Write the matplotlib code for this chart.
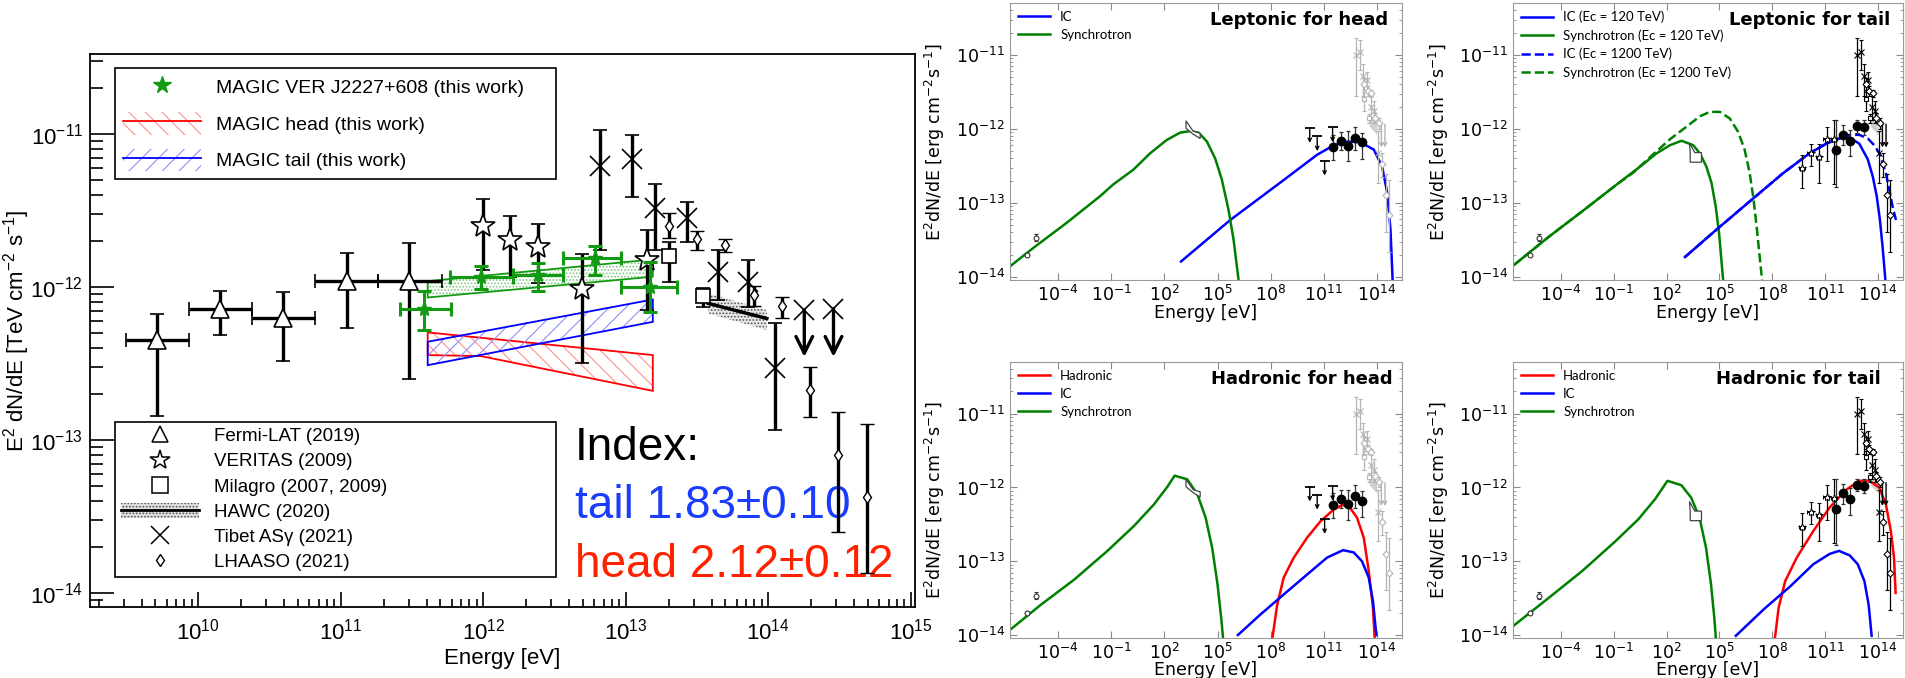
import numpy as np
import matplotlib
matplotlib.use('Agg')
import matplotlib.pyplot as plt
from matplotlib.lines import Line2D
from matplotlib.patches import Patch
from matplotlib.legend_handler import HandlerTuple
from matplotlib.ticker import LogLocator, NullFormatter, NullLocator

plt.rcParams['mathtext.default'] = 'regular'
plt.rcParams['hatch.linewidth'] = 0.8

ROOT_FONT = 'Liberation Sans'
GREEN = '#139a13'
TEV_TO_ERG = 1.602

# ---------- left panel: log10(E / eV), log10(E^2 dN/dE / TeV cm-2 s-1) ----------
fermi_e = [9.71, 10.154, 10.596, 11.045, 11.48]
fermi_elo = [9.495, 9.937, 10.379, 10.82, 11.26]
fermi_ehi = [9.937, 10.379, 10.821, 11.26, 11.71]
fermi_f = [-12.346, -12.144, -12.203, -11.961, -11.961]
fermi_flo = [-12.84, -12.314, -12.483, -12.27, -12.603]
fermi_fhi = [-12.176, -12.026, -12.033, -11.78, -11.71]

veritas_e = [12.0, 12.185, 12.385, 12.695, 13.148]
veritas_f = [-11.601, -11.693, -11.736, -12.015, -11.824]
veritas_flo = [-11.885, -11.932, -11.976, -12.499, -12.15]
veritas_fhi = [-11.425, -11.534, -11.588, -11.786, -11.626]

tibet_e = [12.821, 13.042, 13.207, 13.432, 13.646, 13.855, 14.049]
tibet_f = [-11.209, -11.165, -11.486, -11.551, -11.904, -11.969, -12.531]
tibet_flo = [-11.758, -11.41, -11.758, -11.708, -12.085, -12.129, -12.935]
tibet_fhi = [-10.974, -11.007, -11.327, -11.443, -11.758, -11.824, -12.233]
tibet_ul_e = [14.253, 14.458]
tibet_ul_f = [-12.15, -12.14]
tibet_ul_tip = [-12.456, -12.456]

lhaaso_e = [13.301, 13.498, 13.695, 13.897, 14.096, 14.295, 14.493, 14.693]
lhaaso_f = [-11.601, -11.688, -11.725, -12.052, -12.124, -12.673, -13.10, -13.37]
lhaaso_flo = [-11.682, -11.758, -11.769, -12.124, -12.2, -12.848, -13.6, -13.867]
lhaaso_fhi = [-11.518, -11.632, -11.686, -11.993, -12.063, -12.525, -12.815, -12.895]

milagro_e = [13.301, 13.54]
milagro_f = [-11.797, -12.059]
milagro_flo = [-11.965, -12.129]
milagro_fhi = [-11.704, -12.009]

hawc_e = [13.58, 13.99]
hawc_f = [-12.107, -12.205]
hawc_flo = [-12.172, -12.281]
hawc_fhi = [-12.041, -12.15]

magic_e = [11.582, 11.984, 12.385, 12.784, 13.17]
magic_elo = [11.418, 11.77, 12.206, 12.562, 12.968]
magic_ehi = [11.777, 12.206, 12.562, 12.968, 13.362]
magic_f = [-12.146, -11.932, -11.922, -11.812, -11.998]
magic_flo = [-12.277, -12.015, -12.024, -11.922, -12.161]
magic_fhi = [-12.024, -11.861, -11.841, -11.73, -11.835]

magic_band_e = [11.61, 13.19]
magic_band_hi = [-11.961, -11.819]
magic_band_lo = [-12.068, -11.932]
head_band_e = [11.61, 11.984, 13.19]
head_band_hi = [-12.296, -12.331, -12.444]
head_band_lo = [-12.444, -12.451, -12.678]
tail_band_e = [11.61, 13.19]
tail_band_hi = [-12.357, -12.081]
tail_band_lo = [-12.51, -12.227]

# ---------- model panels: log10(E / eV), log10(E^2 dN/dE / erg cm-2 s-1) ----------
radio_e = [-5.78, -5.24]
radio_f = [-13.70, -13.47]
xray_head_e = [3.22, 3.62, 4.02, 4.02, 3.62, 3.22]
xray_head_f = [-11.89, -12.03, -12.06, -12.13, -12.07, -11.99]
xray_tail_e = [3.30, 3.60, 3.98, 3.98, 3.34, 3.34]
xray_tail_f = [-12.19, -12.32, -12.32, -12.45, -12.45, -12.32]

head_ul_e = [10.21, 10.63, 11.05, 11.50]
head_ul_f = [-11.99, -12.10, -12.43, -11.98]
head_ul_tip = [-12.19, -12.30, -12.63, -12.18]
head_e = [11.53, 11.95, 12.37, 12.75, 13.17]
head_f = [-12.24, -12.16, -12.23, -12.12, -12.18]
head_flo = [-12.42, -12.28, -12.44, -12.28, -12.40]
head_fhi = [-12.08, -12.04, -12.03, -11.97, -12.05]

tailfermi_e = [9.70, 10.17, 10.64, 11.09, 11.53]
tailfermi_f = [-12.53, -12.33, -12.38, -12.135, -12.14]
tailfermi_flo = [-12.80, -12.50, -12.73, -12.44, -12.75]
tailfermi_fhi = [-12.35, -12.20, -12.21, -11.97, -11.88]
tail_e = [11.62, 12.0, 12.43, 12.81, 13.23]
tail_f = [-12.29, -12.08, -12.16, -11.96, -11.98]
tail_flo = [-12.78, -12.22, -12.37, -12.05, -12.08]
tail_fhi = [-11.88, -11.95, -12.01, -11.88, -11.88]

lh_syn_e = [-6.74, -5.42, -3.53, -1.64, -0.89, 0.25, 1.19, 2.13, 2.89, 3.45, 3.93, 4.40, 4.87, 5.25, 5.62, 5.91, 6.19]
lh_syn_f = [-13.86, -13.61, -13.27, -12.91, -12.75, -12.55, -12.33, -12.15, -12.05, -12.03, -12.05, -12.17, -12.40, -12.69, -13.09, -13.50, -14.04]
lh_ic_e = [2.94, 5.72, 8.74, 10.62, 11.57, 12.32, 13.08, 13.83, 14.30, 14.59, 14.77, 14.89]
lh_ic_f = [-13.79, -13.23, -12.69, -12.35, -12.22, -12.17, -12.18, -12.28, -12.51, -12.87, -13.36, -14.04]

lt_syn_e = [-6.68, -4.60, -2.72, -0.83, 0.49, 1.43, 2.19, 2.85, 3.51, 3.89, 4.26, 4.55, 4.79, 4.98, 5.11, 5.21]
lt_syn_f = [-13.84, -13.44, -13.10, -12.75, -12.51, -12.33, -12.22, -12.16, -12.22, -12.33, -12.51, -12.73, -13.05, -13.41, -13.77, -14.04]
lt_syn2_e = [-6.68, -4.60, -2.72, -0.83, 0.11, 1.25, 2.19, 3.13, 3.89, 4.45, 5.02, 5.59, 6.06, 6.43, 6.72, 6.94, 7.13, 7.28, 7.42]
lt_syn2_f = [-13.84, -13.44, -13.10, -12.75, -12.59, -12.34, -12.14, -11.97, -11.83, -11.77, -11.77, -11.86, -12.04, -12.28, -12.60, -12.96, -13.36, -13.72, -14.04]
lt_ic_e = [3.04, 4.83, 6.81, 8.60, 10.11, 11.06, 11.81, 12.28, 12.94, 13.42, 13.70, 13.93, 14.11, 14.26, 14.42]
lt_ic_f = [-13.73, -13.36, -12.96, -12.60, -12.33, -12.20, -12.13, -12.10, -12.20, -12.41, -12.64, -12.91, -13.23, -13.59, -14.04]
lt_ic2_e = [3.04, 4.83, 6.81, 8.60, 10.11, 11.06, 11.81, 12.38, 12.94, 13.42, 13.79, 14.08, 14.26, 14.45, 14.64, 14.83, 15.02]
lt_ic2_f = [-13.73, -13.36, -12.96, -12.60, -12.33, -12.20, -12.12, -12.08, -12.08, -12.13, -12.22, -12.33, -12.46, -12.60, -12.82, -13.05, -13.23]

hh_syn_e = [-6.67, -4.98, -3.10, -1.22, 0.29, 1.41, 2.17, 2.58, 3.29, 3.86, 4.33, 4.70, 5.00, 5.21, 5.32]
hh_syn_f = [-13.92, -13.59, -13.25, -12.86, -12.52, -12.23, -11.99, -11.84, -11.89, -12.09, -12.41, -12.82, -13.31, -13.77, -14.06]
hh_ic_e = [6.15, 7.43, 8.74, 10.06, 11.19, 12.09, 12.69, 13.16, 13.54, 13.78, 13.97]
hh_ic_f = [-14.0, -13.72, -13.45, -13.18, -12.95, -12.85, -12.88, -13.0, -13.22, -13.54, -14.0]
hh_pp_e = [8.09, 8.37, 8.74, 9.31, 10.06, 10.81, 11.56, 12.03, 12.41, 12.88, 13.26, 13.54, 13.78, 13.88]
hh_pp_f = [-14.06, -13.59, -13.22, -12.95, -12.68, -12.46, -12.30, -12.24, -12.25, -12.41, -12.68, -13.13, -13.63, -14.06]

ht_syn_e = [-6.72, -4.66, -2.78, -0.91, 0.40, 1.34, 2.05, 2.84, 3.40, 3.87, 4.24, 4.52, 4.71, 4.80]
ht_syn_f = [-13.88, -13.49, -13.13, -12.73, -12.43, -12.16, -11.91, -11.97, -12.14, -12.41, -12.82, -13.31, -13.77, -14.06]
ht_ic_e = [5.93, 7.52, 9.02, 10.33, 11.26, 11.79, 12.39, 12.85, 13.23, 13.47, 13.64]
ht_ic_f = [-14.01, -13.65, -13.34, -13.04, -12.90, -12.86, -12.92, -13.04, -13.27, -13.59, -14.01]
ht_pp_e = [8.14, 8.36, 8.73, 9.39, 10.33, 11.26, 12.20, 12.95, 13.51, 14.07, 14.45, 14.73, 14.91, 15.0]
ht_pp_f = [-14.06, -13.63, -13.27, -12.95, -12.59, -12.27, -12.03, -11.91, -11.91, -12.0, -12.23, -12.59, -12.95, -13.43]


def p(v):
    return np.power(10.0, np.asarray(v, dtype=float))


def errs(c, lo, hi, scale=1.0):
    c = p(c)
    return np.array([c - p(lo), p(hi) - c]) * scale


def band(ax, e, lo, hi, edge, hatch_color, hatch, z):
    xs = np.r_[p(e), p(e)[::-1]]
    ys = np.r_[p(hi), p(lo)[::-1]]
    ax.fill(xs, ys, facecolor='none', edgecolor=hatch_color, hatch=hatch, lw=0, zorder=z)
    ax.fill(xs, ys, facecolor='none', edgecolor=edge, lw=1.3, zorder=z)


def arrow(ax, e, f, tip, lw, scale, color='k'):
    for x, y0, y1 in zip(e, f, tip):
        ax.annotate('', xy=(p(x), p(y1)), xytext=(p(x), p(y0)),
                    arrowprops=dict(arrowstyle='->', lw=lw, color=color, mutation_scale=scale,
                                    shrinkA=0, shrinkB=0), zorder=4)


fig = plt.figure(figsize=(19.05, 6.78), dpi=100)

# ======================= left panel (ROOT style) =======================
ax = fig.add_axes([90 / 1905, 1 - 607 / 678, 825 / 1905, 553 / 678])
ax.set_xscale('log')
ax.set_yscale('log')
ax.set_xlim(p(9.24), p(15.03))
ax.set_ylim(p(-14.09), p(-10.477))

band(ax, magic_band_e, magic_band_lo, magic_band_hi, GREEN, '#7cc47c', '.....', 2)
band(ax, head_band_e, head_band_lo, head_band_hi, 'red', '#ff9090', '\\\\', 2)
band(ax, tail_band_e, tail_band_lo, tail_band_hi, 'blue', '#9090ff', '//', 2)
ax.fill_between(p(hawc_e), p(hawc_flo), p(hawc_fhi), facecolor='#e8e8e8', edgecolor='#555555',
                hatch='.....', lw=0, zorder=2)
ax.plot(p(hawc_e), p(hawc_f), color='k', lw=2.5, zorder=3)

eb = dict(ecolor='k', elinewidth=2.4, capsize=5, capthick=2.4, zorder=4, ls='none')
ax.errorbar(p(fermi_e), p(fermi_f), xerr=errs(fermi_e, fermi_elo, fermi_ehi),
            yerr=errs(fermi_f, fermi_flo, fermi_fhi), marker='^', ms=13, mfc='white', mec='k', mew=1.2, **eb)
ax.errorbar(p(veritas_e), p(veritas_f), yerr=errs(veritas_f, veritas_flo, veritas_fhi),
            marker='*', ms=18, mfc='white', mec='k', mew=1.2, **eb)
ax.errorbar(p(tibet_e), p(tibet_f), yerr=errs(tibet_f, tibet_flo, tibet_fhi),
            marker='x', ms=15, mec='k', mew=1.2, **eb)
ax.plot(p(tibet_ul_e), p(tibet_ul_f), 'x', ms=15, mec='k', mew=1.2, zorder=4)
arrow(ax, tibet_ul_e, tibet_ul_f, tibet_ul_tip, 2.4, 30)
ax.errorbar(p(lhaaso_e), p(lhaaso_f), yerr=errs(lhaaso_f, lhaaso_flo, lhaaso_fhi),
            marker='d', ms=6, mfc='white', mec='k', mew=1.0, **eb)
ax.errorbar(p(milagro_e), p(milagro_f), yerr=errs(milagro_f, milagro_flo, milagro_fhi),
            marker='s', ms=10, mfc='white', mec='k', mew=1.2, **eb)
ax.errorbar(p(magic_e), p(magic_f), xerr=errs(magic_e, magic_elo, magic_ehi),
            yerr=errs(magic_f, magic_flo, magic_fhi), marker='*', ms=11, color=GREEN,
            ecolor=GREEN, elinewidth=2.2, capsize=5, capthick=2.2, zorder=5, ls='none')

ax.xaxis.set_major_locator(LogLocator(base=10, numticks=20))
ax.xaxis.set_minor_locator(LogLocator(base=10, subs=np.arange(2, 10), numticks=200))
ax.xaxis.set_minor_formatter(NullFormatter())
ax.yaxis.set_major_locator(LogLocator(base=10, numticks=20))
ax.yaxis.set_minor_locator(LogLocator(base=10, subs=np.arange(2, 10), numticks=200))
ax.yaxis.set_minor_formatter(NullFormatter())
ax.tick_params(which='both', direction='in', top=False, right=False, width=1.2,
               labelsize=16, labelfontfamily=ROOT_FONT)
ax.xaxis.set_tick_params(which='major', length=11, pad=8)
ax.xaxis.set_tick_params(which='minor', length=6)
ax.yaxis.set_tick_params(which='major', length=17, pad=5)
ax.yaxis.set_tick_params(which='minor', length=9)
for s in ax.spines.values():
    s.set_linewidth(1.3)
ax.set_xlabel('Energy [eV]', fontsize=16, family=ROOT_FONT)
ax.xaxis.set_label_coords(0.5, -0.075)
ax.set_ylabel(r'E$^{2}$ dN/dE [TeV cm$^{-2}$ s$^{-1}$]', fontsize=16, family=ROOT_FONT)
ax.yaxis.set_label_coords(-0.07, 0.5)

h_magic = Line2D([], [], ls='none', marker='*', ms=13, color=GREEN)
h_head = (Patch(facecolor='none', edgecolor='#ff9090', hatch='\\\\', lw=0), Line2D([], [], color='red', lw=1.3))
h_tail = (Patch(facecolor='none', edgecolor='#9090ff', hatch='//', lw=0), Line2D([], [], color='blue', lw=1.3))
leg1 = ax.legend([h_magic, h_head, h_tail],
                 ['MAGIC VER J2227+608 (this work)', 'MAGIC head (this work)', 'MAGIC tail (this work)'],
                 loc='upper left', bbox_to_anchor=(25 / 825, 0, 441 / 825, 1 - 14 / 553), mode='expand',
                 borderaxespad=0, prop={'family': ROOT_FONT, 'size': 14}, handlelength=4.0,
                 handleheight=1.4, handletextpad=0.8, labelspacing=0.72, borderpad=0.4,
                 fancybox=False, edgecolor='k', framealpha=1, handler_map={tuple: HandlerTuple()})
leg1.get_frame().set_linewidth(1.2)
ax.add_artist(leg1)

h_fermi = Line2D([], [], ls='none', marker='^', ms=11, mfc='white', mec='k', mew=1.1)
h_ver = Line2D([], [], ls='none', marker='*', ms=15, mfc='white', mec='k', mew=1.1)
h_mil = Line2D([], [], ls='none', marker='s', ms=11, mfc='white', mec='k', mew=1.1)
h_hawc = (Patch(facecolor='#e0e0e0', edgecolor='#555555', hatch='.....', lw=0), Line2D([], [], color='k', lw=2))
h_tib = Line2D([], [], ls='none', marker='x', ms=13, mec='k', mew=1.1)
h_lha = Line2D([], [], ls='none', marker='d', ms=6, mfc='white', mec='k', mew=1.0)
leg2 = ax.legend([h_fermi, h_ver, h_mil, h_hawc, h_tib, h_lha],
                 ['Fermi-LAT (2019)', 'VERITAS (2009)', 'Milagro (2007, 2009)', 'HAWC (2020)',
                  'Tibet AS\u03b3 (2021)', 'LHAASO (2021)'],
                 loc='upper left', bbox_to_anchor=(25 / 825, 0, 441 / 825, (607 - 422) / 553), mode='expand',
                 borderaxespad=0, prop={'family': ROOT_FONT, 'size': 13.5}, handlelength=4.2,
                 handleheight=0.8, handletextpad=0.8, labelspacing=0.4, borderpad=0.3,
                 fancybox=False, edgecolor='k', framealpha=1, handler_map={tuple: HandlerTuple()})
leg2.get_frame().set_linewidth(1.2)

tx = 485 / 825
ax.text(tx, (607 - 460) / 553, 'Index:', transform=ax.transAxes, fontsize=33, family=ROOT_FONT,
        va='baseline', zorder=1)
ax.text(tx, (607 - 518) / 553, 'tail 1.83\u00b10.10', color='#1a3cff', transform=ax.transAxes,
        fontsize=33, family=ROOT_FONT, va='baseline', zorder=1)
ax.text(tx, (607 - 577) / 553, 'head 2.12\u00b10.12', color='#ff2200', transform=ax.transAxes,
        fontsize=33, family=ROOT_FONT, va='baseline', zorder=1)


# ======================= model panels =======================
def sed_axes(rect, title, title_x):
    a = fig.add_axes(rect)
    a.set_xscale('log')
    a.set_yscale('log')
    a.set_xlim(p(-6.72), p(15.42))
    a.set_ylim(p(-14.04), p(-10.30))
    a.set_xticks(p([-4, -1, 2, 5, 8, 11, 14]))
    a.xaxis.set_minor_locator(NullLocator())
    a.set_yticks(p([-14, -13, -12, -11]))
    a.yaxis.set_minor_locator(LogLocator(base=10, subs=np.arange(2, 10), numticks=50))
    a.yaxis.set_minor_formatter(NullFormatter())
    a.tick_params(which='both', direction='in', top=True, right=True, color='#8a8a8a', labelsize=12.5)
    a.tick_params(which='major', length=5)
    a.tick_params(which='minor', length=2.5)
    for s in a.spines.values():
        s.set_color('#9a9a9a')
    a.set_xlabel('Energy [eV]', fontsize=12.5)
    a.xaxis.set_label_coords(0.5, -0.085)
    a.set_ylabel(r'E$^2$dN/dE [erg cm$^{-2}$s$^{-1}$]', fontsize=12.5)
    a.yaxis.set_label_coords(-0.16, 0.5)
    a.text(title_x, 0.94, title, transform=a.transAxes, ha='right', va='center', fontsize=13,
           fontweight='bold')
    return a


def sed_data(a, tail):
    c = 'k' if tail else '#b4b4b4'
    ec = dict(elinewidth=0.9, capsize=1.5, capthick=0.9, ls='none', zorder=3)
    a.errorbar(p(radio_e), p(radio_f), yerr=errs(radio_f, [-13.70, -13.51], [-13.70, -13.42]),
               marker='o', ms=3.5, mfc='white', mec='#333333', mew=0.8, ecolor='#333333', **ec)
    xr_e, xr_f = (xray_tail_e, xray_tail_f) if tail else (xray_head_e, xray_head_f)
    a.fill(p(xr_e), p(xr_f), facecolor='white', edgecolor='#444444', lw=0.9, zorder=3)
    a.fill_between(p(hawc_e), p(hawc_flo) * TEV_TO_ERG, p(hawc_fhi) * TEV_TO_ERG,
                   color='#cfcfcf', lw=0, zorder=2)
    a.errorbar(p(tibet_e), p(tibet_f) * TEV_TO_ERG, yerr=errs(tibet_f, tibet_flo, tibet_fhi, TEV_TO_ERG),
               marker='x', ms=4, mec=c, ecolor=c, mew=0.8, **ec)
    a.errorbar(p(lhaaso_e), p(lhaaso_f) * TEV_TO_ERG, yerr=errs(lhaaso_f, lhaaso_flo, lhaaso_fhi, TEV_TO_ERG),
               marker='D', ms=3.5, mfc='white', mec=c, ecolor=c, mew=0.8, **ec)
    a.errorbar(p(milagro_e), p(milagro_f) * TEV_TO_ERG,
               yerr=errs(milagro_f, milagro_flo, milagro_fhi, TEV_TO_ERG),
               marker='s', ms=3.5, mfc='white', mec=c, ecolor=c, mew=0.8, **ec)
    arrow(a, tibet_ul_e, np.array(tibet_ul_f) + np.log10(TEV_TO_ERG),
          np.array(tibet_ul_tip) + np.log10(TEV_TO_ERG), 1.0, 6, color=c)
    if tail:
        a.errorbar(p(tailfermi_e), p(tailfermi_f), yerr=errs(tailfermi_f, tailfermi_flo, tailfermi_fhi),
                   xerr=p(tailfermi_e) * 0.35, marker='*', ms=6, mfc='white', mec='k', ecolor='k',
                   mew=0.7, **ec)
        a.errorbar(p(tail_e), p(tail_f), yerr=errs(tail_f, tail_flo, tail_fhi), marker='o', ms=6,
                   color='k', ecolor='#333333', **ec)
    else:
        a.plot(p(head_ul_e), p(head_ul_f), '_', ms=7, mew=1.3, color='k', zorder=3)
        arrow(a, head_ul_e, head_ul_f, head_ul_tip, 1.0, 6)
        a.errorbar(p(head_e), p(head_f), yerr=errs(head_f, head_flo, head_fhi), marker='o', ms=6,
                   color='k', ecolor='#333333', **ec)


leg_kw = dict(loc='upper left', frameon=False, prop={'family': 'Lato', 'size': 9.5}, handlelength=2.4,
              handletextpad=0.8, labelspacing=0.45, borderaxespad=0.3, borderpad=0.3)

tl = sed_axes([1010 / 1905, 1 - 280 / 678, 392 / 1905, 277 / 678], 'Leptonic for head', 0.965)
sed_data(tl, False)
tl.plot(p(lh_ic_e), p(lh_ic_f), color='blue', lw=1.8, label='IC')
tl.plot(p(lh_syn_e), p(lh_syn_f), color='green', lw=1.8, label='Synchrotron')
tl.legend(**leg_kw)

tr = sed_axes([1513 / 1905, 1 - 280 / 678, 390 / 1905, 277 / 678], 'Leptonic for tail', 0.967)
sed_data(tr, True)
tr.plot(p(lt_ic_e), p(lt_ic_f), color='blue', lw=1.8, label='IC (Ec = 120 TeV)')
tr.plot(p(lt_syn_e), p(lt_syn_f), color='green', lw=1.8, label='Synchrotron (Ec = 120 TeV)')
tr.plot(p(lt_ic2_e), p(lt_ic2_f), color='blue', lw=1.8, ls='--', label='IC (Ec = 1200 TeV)')
tr.plot(p(lt_syn2_e), p(lt_syn2_f), color='green', lw=1.8, ls='--', label='Synchrotron (Ec = 1200 TeV)')
tr.legend(**leg_kw)

bl = sed_axes([1010 / 1905, 1 - 638 / 678, 392 / 1905, 276 / 678], 'Hadronic for head', 0.976)
sed_data(bl, False)
bl.plot(p(hh_pp_e), p(hh_pp_f), color='red', lw=1.8, label='Hadronic')
bl.plot(p(hh_ic_e), p(hh_ic_f), color='blue', lw=1.8, label='IC')
bl.plot(p(hh_syn_e), p(hh_syn_f), color='green', lw=1.8, label='Synchrotron')
bl.legend(**leg_kw)

br = sed_axes([1513 / 1905, 1 - 638 / 678, 390 / 1905, 276 / 678], 'Hadronic for tail', 0.943)
sed_data(br, True)
br.plot(p(ht_pp_e), p(ht_pp_f), color='red', lw=1.8, label='Hadronic')
br.plot(p(ht_ic_e), p(ht_ic_f), color='blue', lw=1.8, label='IC')
br.plot(p(ht_syn_e), p(ht_syn_f), color='green', lw=1.8, label='Synchrotron')
br.legend(**leg_kw)

fig.savefig('out.png', dpi=100)
